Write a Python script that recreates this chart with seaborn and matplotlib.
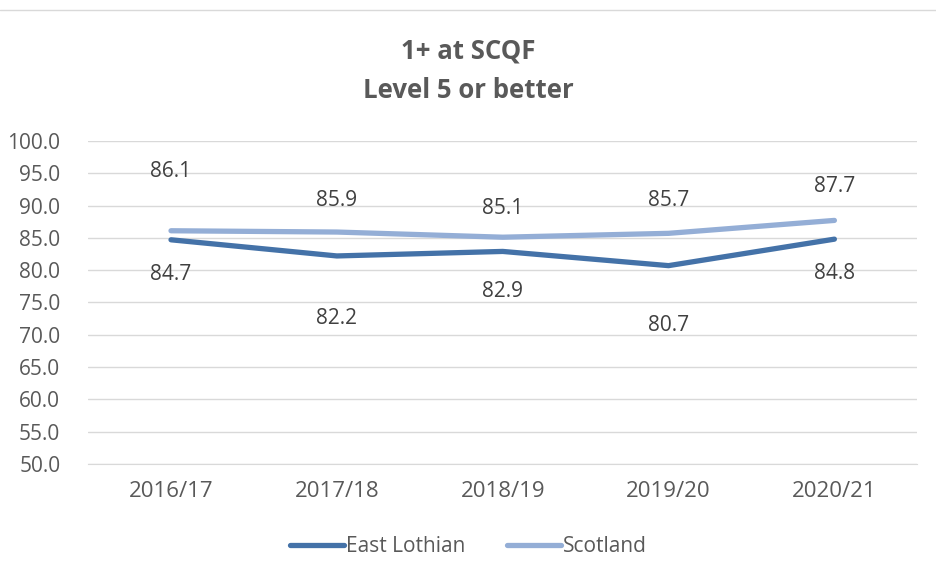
import pandas as pd
import numpy as np
import matplotlib.pyplot as plt
import seaborn as sns
from matplotlib.lines import Line2D

years = ['2016/17', '2017/18', '2018/19', '2019/20', '2020/21']
east_lothian = [84.7, 82.2, 82.9, 80.7, 84.8]
scotland = [86.1, 85.9, 85.1, 85.7, 87.7]

# label offsets (pixels from the line) as placed in the original
scot_off = [59, 32, 29, 33, 34]
el_off = [35, 63, 40, 60, 34]

data = pd.DataFrame({
    'year': years * 2,
    'value': east_lothian + scotland,
    'area': ['East Lothian'] * 5 + ['Scotland'] * 5,
})

sns.set_style('white')
plt.rcParams['font.family'] = ['Open Sans', 'DejaVu Sans']
grey = '#595959'
palette = {'East Lothian': '#4472A8', 'Scotland': '#94AED6'}

fig = plt.figure(figsize=(9.37, 5.8), dpi=100)
ax = fig.add_axes([0.094, 0.2, 0.885, 0.557])

sns.lineplot(data=data, x='year', y='value', hue='area', palette=palette,
             linewidth=3.8, sort=False, legend=False, ax=ax, solid_capstyle='round')

ax.set_ylim(50, 100)
ticks = np.arange(50, 100.1, 5)
ax.set_yticks(ticks)
ax.set_yticklabels([f'{v:.1f}' for v in ticks])
ax.set_xlim(-0.5, 4.5)
ax.grid(axis='y', color='#d9d9d9', linewidth=1)
ax.set_axisbelow(True)
for s in ['top', 'right', 'left']:
    ax.spines[s].set_visible(False)
ax.spines['bottom'].set_color('#d9d9d9')
ax.tick_params(axis='y', length=0, labelsize=15, labelcolor=grey, pad=20)
ax.tick_params(axis='x', length=0, labelsize=16, labelcolor=grey, pad=12)
ax.set_xlabel('')
ax.set_ylabel('')

for i, v in enumerate(scotland):
    ax.annotate(f'{v:.1f}', (i, v), xytext=(0, scot_off[i] * 0.72), textcoords='offset points',
                ha='center', va='center', fontsize=15, color='#404040')
for i, v in enumerate(east_lothian):
    ax.annotate(f'{v:.1f}', (i, v), xytext=(0, -el_off[i] * 0.72), textcoords='offset points',
                ha='center', va='center', fontsize=15, color='#404040')

fig.text(0.5, 0.878, '1+ at SCQF\nLevel 5 or better', ha='center', va='center',
         fontsize=18.5, fontweight='bold', color=grey, linespacing=1.55)

handles = [Line2D([], [], color=palette[k], linewidth=3.8, solid_capstyle='round')
           for k in palette]
fig.legend(handles, list(palette), loc='center', bbox_to_anchor=(0.5, 0.057),
           ncol=2, frameon=False, fontsize=15, labelcolor=grey,
           handlelength=2.6, handletextpad=0.1, columnspacing=2.0)

fig.add_artist(Line2D([0, 1], [1 - 10 / 580] * 2, color='#d9d9d9', linewidth=1))

fig.savefig('out.png', dpi=100)
